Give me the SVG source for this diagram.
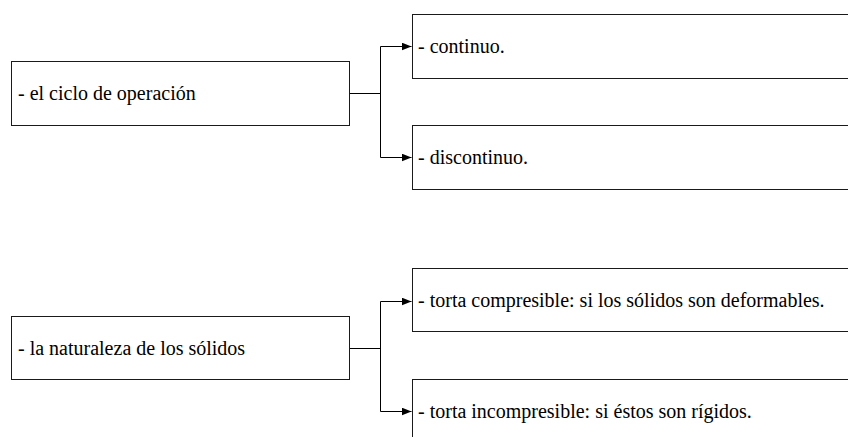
<svg xmlns="http://www.w3.org/2000/svg" width="848" height="437" viewBox="0 0 848 437">
  <style>
    .box { fill: #ffffff; stroke: #1a1a1a; stroke-width: 1; }
    .lbl { font-family: "Liberation Serif", serif; font-size: 20px; fill: #000000; }
    .wire { fill: none; stroke: #000000; stroke-width: 1; }
  </style>
  <defs>
    <marker id="arrow" viewBox="0 0 10 8" refX="10" refY="4" markerWidth="10" markerHeight="8" markerUnits="userSpaceOnUse" orient="auto">
      <path d="M0,0 L10,4 L0,8 Z" fill="#000000"/>
    </marker>
  </defs>
  <rect width="848" height="437" fill="#ffffff"/>

  <!-- connectors: trunk from each parent, then a branch with an arrow to each child -->
  <g id="connectors">
    <path class="wire" d="M349.5,93.5 H380.5"/>
    <path class="wire" d="M380.5,46.5 V157.5"/>
    <path class="wire" d="M380.5,46.5 H411.5" marker-end="url(#arrow)"/>
    <path class="wire" d="M380.5,157.5 H411.5" marker-end="url(#arrow)"/>
    <path class="wire" d="M349.5,348.5 H380.5"/>
    <path class="wire" d="M380.5,301.5 V411.5"/>
    <path class="wire" d="M380.5,301.5 H411.5" marker-end="url(#arrow)"/>
    <path class="wire" d="M380.5,411.5 H411.5" marker-end="url(#arrow)"/>
  </g>

  <!-- first group -->
  <g id="ciclo">
    <rect class="box" x="11.5" y="61.5" width="338" height="64"/>
    <text class="lbl" x="18" y="100">- el ciclo de operación</text>
  </g>
  <g id="continuo">
    <rect class="box" x="412.5" y="14.5" width="450" height="64"/>
    <text class="lbl" x="418" y="53">- continuo.</text>
  </g>
  <g id="discontinuo">
    <rect class="box" x="412.5" y="125.5" width="450" height="64"/>
    <text class="lbl" x="418" y="164">- discontinuo.</text>
  </g>

  <!-- second group -->
  <g id="naturaleza">
    <rect class="box" x="11.5" y="316.5" width="338" height="63"/>
    <text class="lbl" x="18" y="355">- la naturaleza de los sólidos</text>
  </g>
  <g id="compresible">
    <rect class="box" x="412.5" y="268.5" width="450" height="63"/>
    <text class="lbl" x="418" y="307">- torta compresible: si los sólidos son deformables.</text>
  </g>
  <g id="incompresible">
    <rect class="box" x="412.5" y="379.5" width="450" height="70"/>
    <text class="lbl" x="418" y="418">- torta incompresible: si éstos son rígidos.</text>
  </g>
</svg>
